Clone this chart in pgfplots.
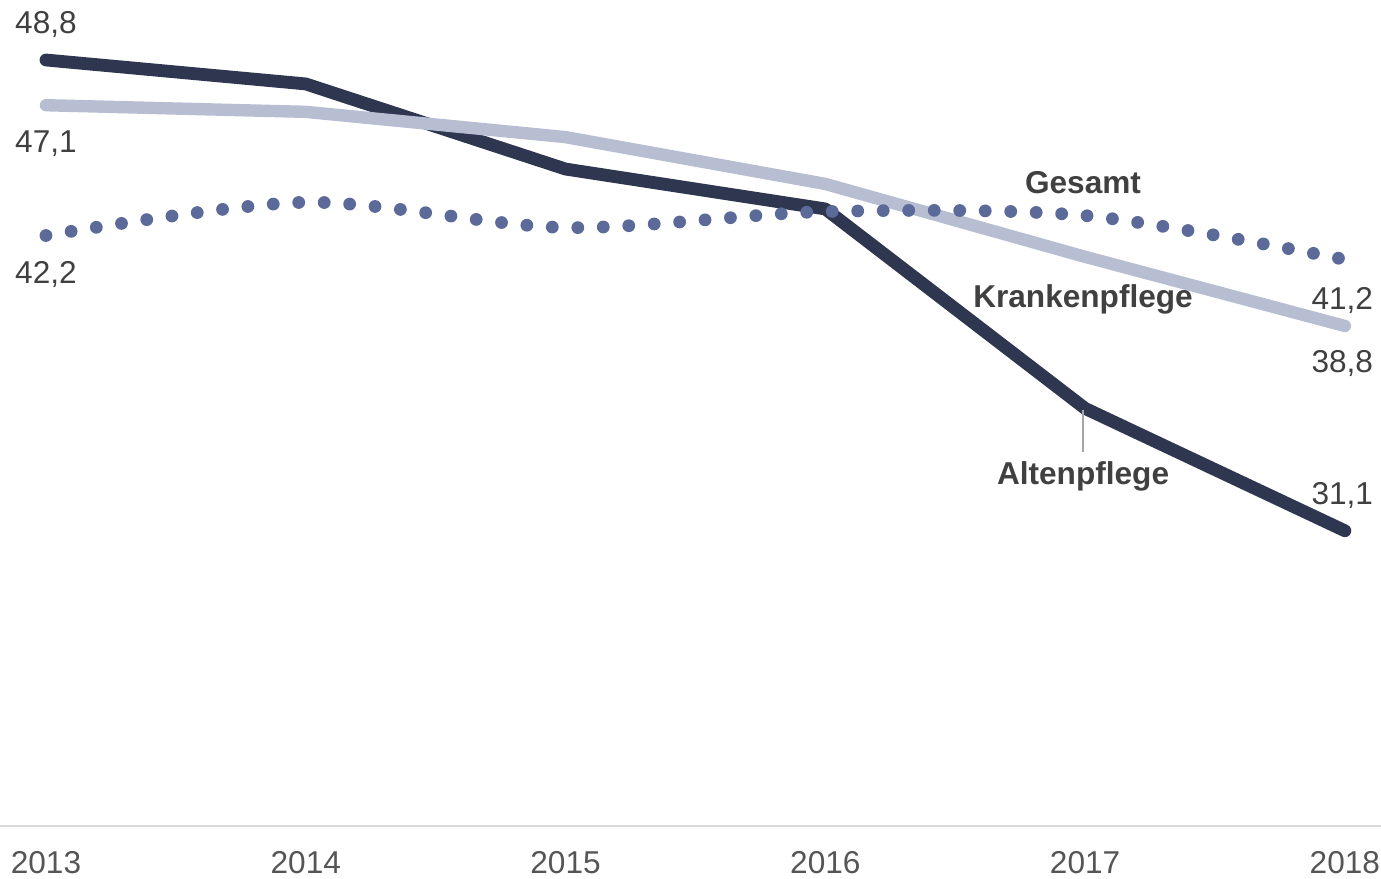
\documentclass[border=0pt]{standalone}
\usepackage{fontspec}
\setmainfont{Liberation Sans}
\usepackage{pgfplots}
\pgfplotsset{compat=1.18}
\definecolor{alten}{HTML}{2E3650}
\definecolor{kranken}{HTML}{B7BED1}
\definecolor{gesamt}{HTML}{5B6A99}
\definecolor{txt}{HTML}{404040}
\definecolor{ticktxt}{HTML}{555555}
\definecolor{axline}{HTML}{D9D9D9}
\begin{document}
\begin{tikzpicture}
\begin{axis}[
  scale only axis,
  width=690.5bp, height=413bp,
  xmin=2012.823, xmax=2018.139,
  ymin=20, ymax=51.056,
  clip=false,
  axis y line=none,
  axis x line*=bottom,
  x axis line style={axline, line width=1.1bp, -},
  xtick={2013,2014,2015,2016,2017,2018},
  xticklabels={2013,2014,2015,2016,2017,2018},
  major tick length=0pt,
  /pgf/number format/assume math mode=true,
  xticklabel style={anchor=center, yshift=-18.5bp, text=ticktxt, font=\fontsize{15.8bp}{18bp}\selectfont},
]
\addplot[alten, line width=6.4bp, line cap=round, line join=round] coordinates {
  (2013,48.8) (2014,47.9) (2015,44.7) (2016,43.2) (2017,35.7) (2018,31.1)};
\addplot[kranken, line width=6.2bp, line cap=round, line join=round] coordinates {
  (2013,47.1) (2014,46.85) (2015,45.9) (2016,44.14) (2017,41.4) (2018,38.8)};
\addplot[gesamt, smooth, line width=6.4bp, line cap=round, dash pattern=on 0pt off 12.75bp] coordinates {
  (2013,42.2) (2014,43.45) (2015,42.5) (2016,43.1) (2017,42.95) (2018,41.3)};

\begin{scope}[every node/.style={text=txt, font=\fontsize{15.8bp}{18bp}\selectfont, inner sep=0pt}]
\node at (axis cs:2013,50.15) {48,8};
\node at (axis cs:2013,45.64) {47,1};
\node at (axis cs:2013,40.75) {42,2};
\node at (axis cs:2017.99,39.77) {41,2};
\node at (axis cs:2017.99,37.4) {38,8};
\node at (axis cs:2017.99,32.44) {31,1};
\node[font=\fontsize{15.8bp}{18bp}\selectfont\bfseries] at (axis cs:2016.992,44.2) {Gesamt};
\node[font=\fontsize{15.8bp}{18bp}\selectfont\bfseries] at (axis cs:2016.992,39.8) {Krankenpflege};
\node[font=\fontsize{15.8bp}{18bp}\selectfont\bfseries] at (axis cs:2016.992,33.15) {Altenpflege};
\end{scope}
\draw[gray!70, line width=0.8bp] (axis cs:2016.992,35.64) -- (axis cs:2016.992,34.06);
\coordinate (bl) at (rel axis cs:0,0);
\coordinate (tr) at (rel axis cs:1,1);
\end{axis}
\pgfresetboundingbox
\path[use as bounding box] ([yshift=-26.5bp]bl) rectangle (tr);
\end{tikzpicture}
\end{document}
